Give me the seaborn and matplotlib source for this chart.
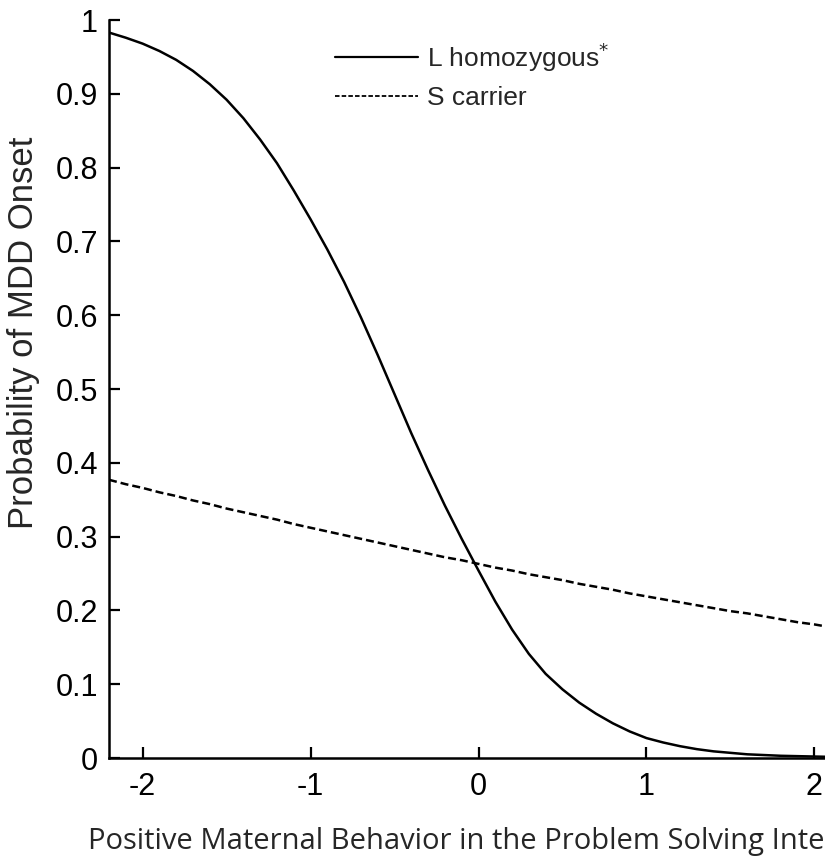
import numpy as np
import pandas as pd
import matplotlib
matplotlib.use("Agg")
import matplotlib.pyplot as plt
import seaborn as sns
from matplotlib.lines import Line2D

# ---- data ----
x_vals = [-2.2, -2.1, -2.0, -1.9, -1.8, -1.7, -1.6, -1.5, -1.4, -1.3, -1.2, -1.1,
          -1.0, -0.9, -0.8, -0.7, -0.6, -0.5, -0.4, -0.3, -0.2, -0.1, 0.0,
          0.1, 0.2, 0.3, 0.4, 0.5, 0.6, 0.7, 0.8, 0.9, 1.0, 1.1, 1.2, 1.3,
          1.4, 1.5, 1.6, 1.7, 1.8, 1.9, 2.0, 2.1, 2.2]
l_homozygous = [0.983, 0.976, 0.968, 0.958, 0.946, 0.931, 0.913, 0.892, 0.867, 0.838,
                0.806, 0.769, 0.730, 0.689, 0.645, 0.597, 0.546, 0.493, 0.440, 0.390,
                0.342, 0.297, 0.254, 0.212, 0.174, 0.141, 0.114, 0.093, 0.075, 0.060,
                0.047, 0.036, 0.027, 0.021, 0.016, 0.012, 0.009, 0.007, 0.005, 0.004,
                0.003, 0.0025, 0.002, 0.0015, 0.001]
s_carrier = [0.377, 0.371, 0.366, 0.360, 0.355, 0.349, 0.344, 0.338, 0.333, 0.328,
             0.323, 0.317, 0.312, 0.307, 0.302, 0.297, 0.292, 0.287, 0.282, 0.277,
             0.272, 0.268, 0.263, 0.258, 0.254, 0.249, 0.245, 0.241, 0.236, 0.232,
             0.228, 0.223, 0.219, 0.215, 0.211, 0.207, 0.203, 0.199, 0.196, 0.192,
             0.188, 0.184, 0.181, 0.177, 0.174]
series_labels = ["L homozygous$^{*}$", "S carrier"]
x_ticks = [-2, -1, 0, 1, 2]
y_ticks = [0, 0.1, 0.2, 0.3, 0.4, 0.5, 0.6, 0.7, 0.8, 0.9, 1.0]
y_tick_labels = ["0", "0.1", "0.2", "0.3", "0.4", "0.5", "0.6", "0.7", "0.8", "0.9", "1"]
x_label = "Positive Maternal Behavior in the Problem Solving Interaction"
y_label = "Probability of MDD Onset"

df = pd.DataFrame({
    "x": x_vals * 2,
    "p": l_homozygous + s_carrier,
    "group": [series_labels[0]] * len(x_vals) + [series_labels[1]] * len(x_vals),
})

sns.set_style("ticks")
plt.rcParams["font.family"] = ["Liberation Sans", "DejaVu Sans"]

W, H = 825, 858
fig = plt.figure(figsize=(W / 100, H / 100), dpi=100)
ax = fig.add_axes([109 / W, 100 / H, 739 / W, 738 / H])

sns.lineplot(data=df, x="x", y="p", hue="group", style="group",
             palette=["black", "black"],
             dashes={series_labels[0]: "", series_labels[1]: (3.2, 1.6)},
             linewidth=1.8, ax=ax, legend=False, estimator=None, sort=True)

ax.set_xlim(-2.2, 2.2)
ax.set_ylim(0, 1)
ax.set_xticks(x_ticks)
ax.set_xticklabels([str(t) for t in x_ticks])
ax.set_yticks(y_ticks)
ax.set_yticklabels(y_tick_labels)
ax.tick_params(direction="in", length=8, width=1.6, labelsize=22, colors="black")
ax.tick_params(axis="x", pad=10)
ax.tick_params(axis="y", pad=8)
for s in ["top", "right"]:
    ax.spines[s].set_visible(False)
for s in ["left", "bottom"]:
    ax.spines[s].set_linewidth(1.8)
    ax.spines[s].set_color("black")

ax.set_xlabel("")
ax.set_ylabel("")
fig.text(24 / W, 1 - 333 / H, y_label, fontsize=25, rotation=90,
         ha="center", va="center")

handles = [Line2D([], [], color="black", lw=1.6),
           Line2D([], [], color="black", lw=1.3, dashes=(2.5, 1.2))]
leg = fig.legend(handles, series_labels, loc="upper left",
                 bbox_to_anchor=(335 / W, 1 - 40 / H), frameon=False,
                 fontsize=19, handlelength=3.15, handletextpad=0.35,
                 labelspacing=0.47, borderpad=0, borderaxespad=0)

fig.text(88 / W, 1 - 842 / H, x_label, fontsize=21, family=["Open Sans", "DejaVu Sans"],
         ha="left", va="center")

fig.savefig("out.png", dpi=100)
